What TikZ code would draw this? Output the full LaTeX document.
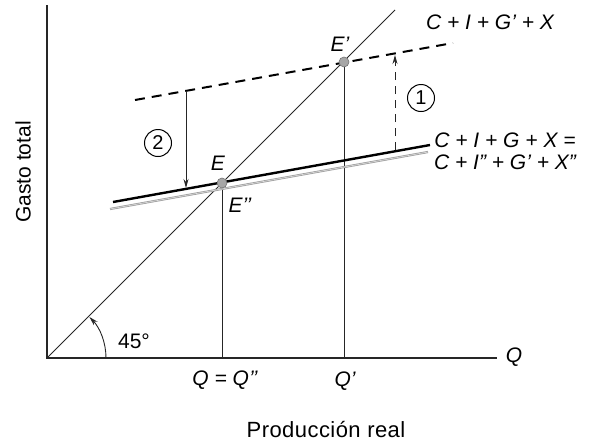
\documentclass[tikz,border=0pt]{standalone}
\usepackage{fontspec}
\setmainfont{Liberation Sans}
\usetikzlibrary{arrows.meta,calc}
\begin{document}
\begin{tikzpicture}[x=1pt,y=-1pt,
  lbl/.style={font=\fontsize{21}{24}\selectfont\itshape, inner sep=0pt},
  plain/.style={font=\fontsize{21}{24}\selectfont, inner sep=0pt},
  num/.style={draw, circle, line width=1pt, minimum size=27pt, inner sep=0pt, font=\fontsize{20}{22}\selectfont},
  axis/.style={line width=1.1pt, draw=black!85},
  thin/.style={line width=0.9pt, draw=black!85},
  dot/.style={circle, fill=gray!70, draw=gray!90!black, line width=0.6pt, minimum size=10pt, inner sep=0pt},
  tip/.style={-{Stealth[length=9pt,width=5pt]}}
]
\useasboundingbox (0,0) rectangle (589,445);
% key coordinates
\coordinate (O) at (47,358);
\coordinate (Ytop) at (47,5);
\coordinate (Xend) at (497,358);
\coordinate (Ltop) at (395,10);
\coordinate (Ea) at (222,183);
\coordinate (Epa) at (344,62);
\coordinate (Qa) at (222,358);
\coordinate (Qpa) at (344,358);
\coordinate (D1) at (135,100);
\coordinate (D2) at (453,43);
\coordinate (S1) at (113,202);
\coordinate (S2) at (430,145);
\coordinate (G1) at (110,209);
\coordinate (G2) at (428,152);
\coordinate (A2s) at (186,91);
\coordinate (A2e) at (186,188);
\coordinate (A1s) at (395,150);
\coordinate (A1e) at (395,55);
\coordinate (Arc0) at (106,358);
% axes
\draw[axis] (Ytop) -- (O) -- (Xend);
% 45 degree line
\draw[thin] (O) -- (Ltop);
% verticals
\draw[thin] (Ea) -- (Qa);
\draw[thin] (Epa) -- (Qpa);
% gray line
\draw[draw=gray!75, line width=2.2pt] (G1) -- (G2);
\draw[draw=gray!25, line width=0.6pt] (G1) -- (G2);
% solid thick line
\draw[line width=2.4pt] (S1) -- (S2);
% dashed line
\draw[line width=2pt, dash pattern=on 10pt off 7pt] (D1) -- (D2);
% arrows
\draw[thin, tip] (A2s) -- (A2e);
\draw[thin, tip, dash pattern=on 8pt off 6pt] (A1s) -- (A1e);
% arc
\draw[thin, tip] (Arc0) arc[start angle=0, end angle=-44, radius=59];
% dots
\node[dot] (E) at (Ea) {};
\node[dot] (Ep) at (Epa) {};
% labels
\node[lbl] (lE) at (218,163) {E};
\node[lbl] (lEp) at (340,44) {E’};
\node[lbl] (lEpp) at (240,205) {E’’};
\node[num] (n1) at (421,98) {1};
\node[num] (n2) at (158,143) {2};
\node[lbl] (c1) at (490,22) {C + I + G’ + X};
\node[lbl] (c2) at (505,140) {C + I + G + X =};
\node[lbl] (c3) at (505,162) {C + I” + G’ + X”};
\node[plain] (ang) at (134,341) {45°};
\node[lbl] (q1) at (225,380) {Q = Q’’};
\node[lbl] (q2) at (345,381) {Q’};
\node[lbl] (q3) at (514,357) {Q};
\node[plain, font=\fontsize{22}{24}\selectfont\addfontfeature{LetterSpace=2}] (xl) at (326,430) {Producción real};
\node[plain, rotate=90] (yl) at (23,172) {Gasto total};
\end{tikzpicture}
\end{document}
